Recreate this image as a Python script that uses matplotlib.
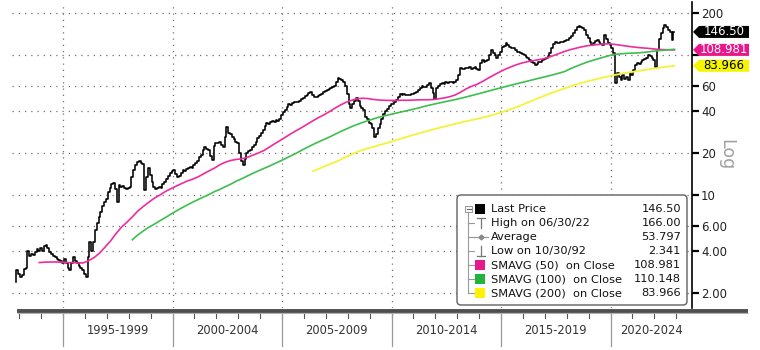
import numpy as np
import matplotlib
matplotlib.use("Agg")
import matplotlib.pyplot as plt
from matplotlib.patches import FancyBboxPatch, Polygon, Rectangle
from matplotlib.ticker import NullLocator
from matplotlib.transforms import ScaledTranslation

W, H = 760, 350

# monthly closes, Oct 1992 .. Nov 2022
close = [
    2.40, 2.90, 2.75,
    2.60, 2.70, 2.95, 3.00, 4.00, 3.70, 3.80, 3.75, 3.90, 4.10, 4.00, 4.20,
    4.00, 4.30, 4.40, 4.20, 3.90, 3.80, 3.70, 3.60, 3.50, 3.45, 3.40, 3.30,
    3.50, 3.30, 3.00, 2.90, 3.30, 3.60, 3.40, 3.30, 3.10, 3.00, 2.90, 2.75,
    2.60, 3.60, 4.60, 4.00, 4.60, 5.60, 6.30, 7.00, 7.60, 8.30, 9.00, 9.40,
    10.5, 11.2, 12.0, 12.3, 11.0, 9.0, 11.8, 11.5, 11.6, 11.2, 11.0, 11.3,
    11.4, 13.5, 15.1, 16.5, 17.2, 17.5, 17.0, 16.8, 10.8, 13.5, 15.6, 14.0,
    12.5, 11.4, 11.0, 11.2, 11.4, 11.2, 12.0, 12.5, 13.0, 13.8, 14.4, 14.8,
    15.0, 14.2, 13.5, 13.8, 14.5, 15.0, 14.8, 15.3, 15.6, 15.9, 15.5, 16.3,
    16.9, 17.5, 18.7, 19.5, 21.0, 22.0, 21.5, 21.0, 19.0, 17.9, 22.5, 23.5,
    23.5, 24.0, 23.0, 22.0, 26.0, 30.7, 28.0, 27.5, 26.0, 25.0, 24.0, 23.5,
    20.0, 17.5, 16.5, 18.0, 20.0, 20.5, 21.0, 22.0, 23.0, 24.0, 25.5, 26.5,
    27.8, 29.0, 31.0, 33.0, 32.0, 33.5, 34.0, 33.5, 34.6, 34.0, 35.0, 37.5,
    39.0, 40.8, 42.5, 45.0, 44.0, 45.5, 46.0, 46.5, 46.0, 47.0, 48.5, 49.6,
    51.0, 52.0, 53.5, 54.5, 52.0, 50.0, 50.5, 51.0, 52.0, 53.0, 54.5, 55.0,
    56.0, 57.0, 58.0, 59.0, 60.0, 64.0, 69.0, 67.0, 66.0, 64.0, 60.0, 53.0,
    45.0, 42.0, 45.0, 47.0, 49.6, 47.0, 43.0, 42.0, 40.6, 36.0, 35.0, 33.0,
    32.0, 30.0, 26.0, 27.5, 30.0, 32.0, 35.0, 38.0, 40.0, 41.0, 43.0, 44.5,
    45.0, 46.0, 47.6, 50.0, 53.0, 51.5, 52.5, 52.0, 51.5, 52.0, 53.0, 53.0,
    53.5, 54.5, 56.0, 58.0, 60.0, 59.0, 59.0, 61.0, 63.0, 58.0, 54.0, 49.0,
    58.0, 60.0, 62.0, 63.0, 62.0, 64.0, 63.5, 64.0, 64.5, 63.0, 64.0, 66.0,
    72.0, 81.0, 80.0, 79.0, 81.0, 81.0, 82.0, 80.0, 81.0, 82.0, 79.0, 78.0,
    88.0, 92.0, 90.0, 91.0, 92.0, 100.0, 108.0, 104.0, 100.0, 95.0, 100.0, 106.0,
    114.0, 116.0, 122.0, 118.0, 115.0, 113.0, 112.0, 108.0, 106.0, 105.0, 104.0, 102.0,
    100.0, 97.0, 95.0, 92.0, 89.0, 88.0, 85.0, 87.0, 89.0, 90.0, 92.0, 94.0,
    95.0, 98.0, 103.0, 112.0, 121.0, 124.0, 122.0, 123.0, 124.0, 125.0, 126.0, 128.0,
    129.0, 133.0, 138.0, 144.0, 152.0, 159.0, 162.0, 160.0, 156.0, 151.0, 140.0, 132.0,
    125.0, 118.0, 122.0, 126.0, 129.0, 124.0, 120.0, 118.0, 139.0, 130.0, 122.0, 118.0,
    112.0, 103.0, 63.0, 74.0, 70.0, 66.0, 72.0, 68.0, 70.0, 66.0, 75.0, 72.0,
    78.0, 85.0, 88.0, 86.0, 90.0, 92.0, 94.0, 96.0, 100.0, 98.0, 95.0, 92.0,
    82.0, 108.0, 130.0, 144.0, 155.0, 164.0, 158.0, 150.0, 146.0, 128.0, 146.5,
]

# moving averages sampled every third month (first month given below)
sma50 = [
    3.30, 3.32, 3.33, 3.33, 3.32, 3.30, 3.30, 3.28, 3.28, 3.40, 3.58, 3.85,
    4.25, 4.70, 5.30, 5.90, 6.40, 7.00, 7.70, 8.30, 8.90, 9.50, 10.0, 10.6,
    11.1, 11.6, 12.1, 12.6, 13.0, 13.5, 14.2, 14.9, 15.6, 16.5, 17.2, 17.7,
    18.0, 18.2, 18.6, 19.3, 20.0, 20.8, 22.0, 23.3, 24.6, 26.0, 27.5, 29.0,
    30.5, 32.2, 34.0, 35.8, 37.5, 39.5, 41.8, 44.0, 46.0, 47.5, 48.8, 49.2,
    49.0, 48.3, 47.8, 47.6, 47.5, 47.5, 47.6, 47.6, 47.7, 47.9, 48.0, 48.0,
    48.2, 48.8, 49.5, 50.5, 52.0, 54.5, 57.5, 60.0, 62.0, 65.0, 68.5, 72.0,
    75.5, 79.0, 82.0, 85.0, 87.5, 89.5, 91.0, 92.5, 94.0, 96.5, 99.5, 103.0,
    106.5, 109.5, 112.0, 114.5, 116.5, 118.0, 119.0, 120.0, 120.5, 119.5, 118.0, 116.5,
    115.0, 113.8, 112.8, 112.0, 111.0, 110.0, 109.5, 109.2, 108.981,
]
sma100 = [
    4.8, 5.2, 5.55, 5.9, 6.2, 6.55, 6.9, 7.3, 7.7, 8.1, 8.5, 8.9,
    9.3, 9.7, 10.1, 10.6, 11.0, 11.5, 12.0, 12.6, 13.1, 13.7, 14.3, 14.9,
    15.5, 16.1, 16.8, 17.5, 18.3, 19.1, 20.0, 21.0, 22.0, 23.0, 24.0, 25.0,
    26.0, 27.2, 28.4, 29.6, 30.8, 31.9, 33.0, 34.0, 35.0, 36.0, 36.8, 37.6,
    38.4, 39.2, 40.0, 40.8, 41.7, 42.7, 43.7, 44.6, 45.5, 46.4, 47.3, 48.2,
    49.2, 50.3, 51.5, 52.7, 54.0, 55.3, 56.7, 58.0, 59.4, 60.8, 62.2, 63.6,
    65.0, 66.5, 68.0, 69.5, 71.0, 72.7, 74.5, 76.5, 80.0, 83.0, 86.0, 89.0,
    91.5, 94.0, 96.5, 99.0, 101.0, 102.0, 102.8, 103.3, 103.5, 104.3, 105.3, 106.5,
    107.5, 108.5, 109.3, 110.148,
]
sma200 = [
    14.8, 15.4, 16.0,
    16.6, 17.2, 17.9, 18.7, 19.5, 20.3, 21.0, 21.6, 22.1, 22.7, 23.3, 23.9,
    24.6, 25.3, 26.0, 26.7, 27.4, 28.1, 28.8, 29.5, 30.2, 30.9, 31.6, 32.3,
    33.0, 33.7, 34.4, 35.1, 35.8, 36.6, 37.5, 38.6, 39.8, 41.0, 42.3, 43.8,
    45.5, 47.2, 49.0, 50.8, 52.6, 54.4, 56.2, 58.0, 59.8, 61.5, 63.2, 64.8,
    66.3, 67.8, 69.2, 70.6, 72.0, 73.3, 74.5, 75.6, 76.7, 77.8, 78.9, 80.0,
    81.0, 82.0, 83.0, 83.966,
]

y_ticks = [200, 100, 60, 40, 20, 10, 6, 4, 2]
y_tick_text = ["200", "", "60", "40", "20", "10", "6.00", "4.00", "2.00"]
periods = ["1995-1999", "2000-2004", "2005-2009", "2010-2014", "2015-2019", "2020-2024"]

legend_rows = [
    ("Last Price", "146.50"),
    ("High on 06/30/22", "166.00"),
    ("Average", "53.797"),
    ("Low on 10/30/92", "2.341"),
    ("SMAVG (50)  on Close", "108.981"),
    ("SMAVG (100)  on Close", "110.148"),
    ("SMAVG (200)  on Close", "83.966"),
]

C_PRICE = "#000000"
C_50 = "#EE2C9C"
C_100 = "#3DBE4E"
C_200 = "#F3F33A"


def month_end(year, month, count, step=1):
    return year + (month + step * np.arange(count)) / 12.0


t_close = month_end(1992, 10, len(close))
t50 = month_end(1993, 11, len(sma50), 3)
t100 = month_end(1998, 2, len(sma100), 3)
t200 = month_end(2006, 5, len(sma200), 3)

# plot area in pixels
AX_L, AX_R, AX_T, AX_B = 12, 692, 2, 308
x_min = 1995 + (AX_L - 63) / 21.9
x_max = 1995 + (AX_R - 63) / 21.9
y_min = 2 * 10 ** ((293 - AX_B) / 140)
y_max = 2 * 10 ** ((293 - AX_T) / 140)

fig = plt.figure(figsize=(W / 100, H / 100), dpi=100)
fig.patch.set_facecolor("white")
ax = fig.add_axes([AX_L / W, 1 - AX_B / H, (AX_R - AX_L) / W, (AX_B - AX_T) / H])

ax.plot(t_close, close, color=C_PRICE, lw=1.15, drawstyle="steps-mid", zorder=3)
ax.plot(t50, sma50, color=C_50, lw=1.2, zorder=4)
ax.plot(t100, sma100, color=C_100, lw=1.2, zorder=4)
ax.plot(t200, sma200, color=C_200, lw=1.3, zorder=4)

ax.set_yscale("log")
ax.set_xlim(x_min, x_max)
ax.set_ylim(y_min, y_max)
ax.set_yticks(y_ticks)
ax.set_yticklabels(y_tick_text)
ax.yaxis.set_minor_locator(NullLocator())
ax.yaxis.tick_right()
ax.tick_params(axis="y", direction="out", length=5, width=1.6, pad=1.5,
               labelsize=8.5, labelcolor="#222222")
ax.set_xticks(np.arange(1995, 2021, 5))
ax.xaxis.set_minor_locator(NullLocator())
ax.tick_params(axis="x", length=0, labelbottom=False)
ax.grid(True, which="major", color="#707070", lw=0.9, linestyle=(0, (1, 4)))
for side in ["top", "left", "bottom"]:
    ax.spines[side].set_visible(False)
ax.spines["right"].set_color("black")
ax.spines["right"].set_linewidth(1.2)

# date strip under the plot
bx = ax.get_xaxis_transform()


def below(px):
    return (AX_B - px) / (AX_B - AX_T)


for yr in range(1993, 2024):
    ax.plot([yr, yr], [below(314), below(318)], transform=bx, color="#555555",
            lw=0.8, clip_on=False)
for yr in range(1995, 2021, 5):
    ax.plot([yr, yr], [below(313), below(346)], transform=bx, color="#9a9a9a",
            lw=0.9, clip_on=False)
for i, lab in enumerate(periods):
    start = 1995 + 5 * i
    mid = (start + min(start + 5, x_max)) / 2
    ax.text(mid, below(331), lab, transform=bx, ha="center", va="center",
            fontsize=8.3, color="#333333")

# overlay in pixel units for the frame pieces and legend
ov = fig.add_axes([0, 0, 1, 1], zorder=3)
ov.set_xlim(0, W)
ov.set_ylim(H, 0)
ov.axis("off")
ov.patch.set_alpha(0)

ov.plot([17, 748], [310.5, 310.5], color="#4f4f4f", lw=2.8, solid_capstyle="butt")
ov.plot([17, 748], [313.2, 313.2], color="#b0b0b0", lw=0.8, solid_capstyle="butt")

ov.text(726, 155, "Log", rotation=270, ha="center", va="center", fontsize=12.5,
        color="#a0a0a0")

# last value tags on the price scale
def tag(value, text, face, ink):
    anchor = ScaledTranslation(1, value, ax.get_yaxis_transform())
    shape = np.array([[1, 0], [7, 6], [57, 6], [57, -6], [7, -6]]) / 100.0
    fig.add_artist(Polygon(shape, closed=True, transform=fig.dpi_scale_trans + anchor,
                           fc=face, ec="none", zorder=5))
    fig.text(0, 0, text, transform=ax.get_yaxis_transform()
             + ScaledTranslation(0.32, 0, fig.dpi_scale_trans),
             ha="center", va="center", fontsize=8.5, color=ink, zorder=6)
    fig.texts[-1].set_position((1, value))


tag(close[-1], legend_rows[0][1], "#000000", "white")
tag(sma50[-1], legend_rows[4][1], "#E8178C", "white")
tag(sma200[-1], legend_rows[6][1], "#F5F500", "black")

# legend panel
ov.add_patch(FancyBboxPatch((457, 195), 230, 110, boxstyle="round,pad=0,rounding_size=4",
                            fc="white", ec="#606060", lw=1.0, zorder=1))
rows_y = [209, 223, 237, 251, 265, 279, 293]
tree = "#9a9a9a"
ov.plot([468, 468], [212, rows_y[-1]], color=tree, lw=0.8)
for ry in rows_y[1:]:
    ov.plot([468, 474], [ry, ry], color=tree, lw=0.8)
ov.add_patch(Rectangle((465, 205.5), 6.5, 6.5, fc="white", ec=tree, lw=0.8, zorder=2))
ov.plot([466.5, 470.5], [208.8, 208.8], color="#666666", lw=0.8, zorder=3)

swatches = {0: "#000000", 4: "#E8178C", 5: "#22B33A", 6: "#FFF200"}
for i, face in swatches.items():
    ov.add_patch(Rectangle((475, rows_y[i] - 5), 10, 10, fc=face, ec="none", zorder=2))
# high / average / low glyphs
ov.plot([477, 485], [218, 218], color="#777777", lw=0.9)
ov.plot([481, 481], [218, 228], color="#777777", lw=0.9)
ov.plot([474, 488], [237, 237], color="#999999", lw=0.9)
ov.plot([481], [237], marker="D", ms=2.5, color="#888888")
ov.plot([481, 481], [246, 256], color="#777777", lw=0.9)
ov.plot([477, 485], [256, 256], color="#777777", lw=0.9)

for (label, val), ry in zip(legend_rows, rows_y):
    ov.text(491, ry, label, ha="left", va="center", fontsize=8.2, color="#111111")
    ov.text(681, ry, val, ha="right", va="center", fontsize=8.2, color="#111111")

fig.savefig("out.png", dpi=100, facecolor="white")
